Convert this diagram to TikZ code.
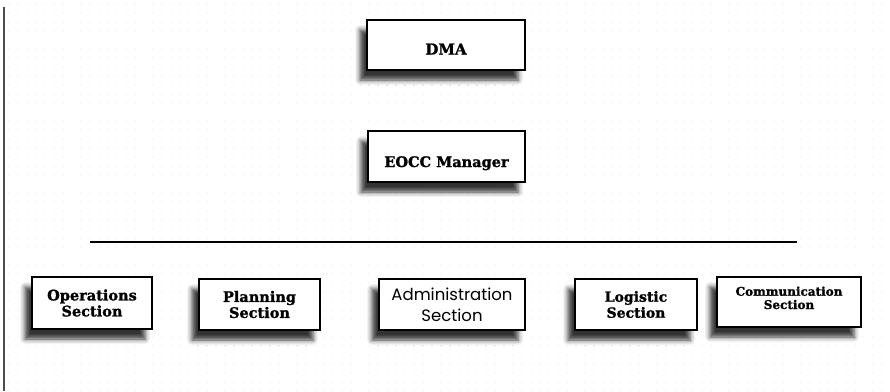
\documentclass[tikz,border=0pt]{standalone}
\usepackage{fontspec}
\usepackage{tikz}
\usetikzlibrary{patterns}
\usetikzlibrary{shadows.blur}
\newfontfamily\slabfont[BoldFeatures={FakeBold=1.3}]{DejaVu Serif}
\newfontfamily\gothfont{Poppins}
% faint dotted paper
\pgfdeclarepatternformonly{paperdots}{\pgfqpoint{-1pt}{-1pt}}{\pgfqpoint{1pt}{1pt}}{\pgfqpoint{9pt}{9pt}}{%
  \pgfpathcircle{\pgfqpoint{0pt}{0pt}}{0.7pt}\pgfusepath{fill}}
\tikzset{unit/.style={draw, line width=1.2pt, fill=white, align=center,
           inner sep=0pt, minimum width=#1,
           blur shadow={shadow xshift=-7pt, shadow yshift=-10pt,
                        shadow blur radius=5pt, shadow opacity=80}},
         unit/.default={120pt},
         slab/.style={font=\slabfont\bfseries\fontsize{#1}{16}\selectfont},
         slab/.default={14.5}}

\begin{document}
\begin{tikzpicture}[x=1pt, y=-1pt]
        \useasboundingbox (0,0) rectangle (890,391);
        \fill[pattern=paperdots, pattern color=black!10] (0,0) rectangle (890,391);
        
        % margin rule
        \coordinate (mtop) at (4,7);
        \coordinate (mbot) at (4,391);
        \draw[line width=2.2pt, black!70] (mtop) -- (mbot);
        
        % top of the chart
        \node[unit=158pt, minimum height=50pt, slab=15, text height=19pt, text depth=0pt] (dma) at (446,45) {DMA};
        \node[unit=157pt, minimum height=51pt, slab=14.5, text height=21pt, text depth=0pt] (eocc) at (446.5,156.5) {EOCC Manager};
        
        % section bar
        \coordinate (busL) at (90,242);
        \coordinate (busR) at (797,242);
        \draw[line width=1.3pt] (busL) -- (busR);
        
        % sections
        \node[unit=120pt, minimum height=52pt, slab] (ops) at (92,303) {Operations\\Section};
        \node[unit=121pt, minimum height=51pt, slab] (plan) at (259.5,304.5) {Planning\\Section};
        \node[unit=146pt, minimum height=51pt, font=\gothfont\fontsize{16.5}{21}\selectfont] (admin) at (452,304.5) {Administration\\Section};
        \node[unit=122pt, minimum height=51pt, slab=14] (logi) at (636,304.5) {Logistic\\Section};
        \node[unit=144pt, minimum height=50pt, slab=12, text height=22pt, text depth=8pt] (comm) at (789,302) {\shortstack{Communication\\[1pt]Section}};
        
\end{tikzpicture}
\end{document}
